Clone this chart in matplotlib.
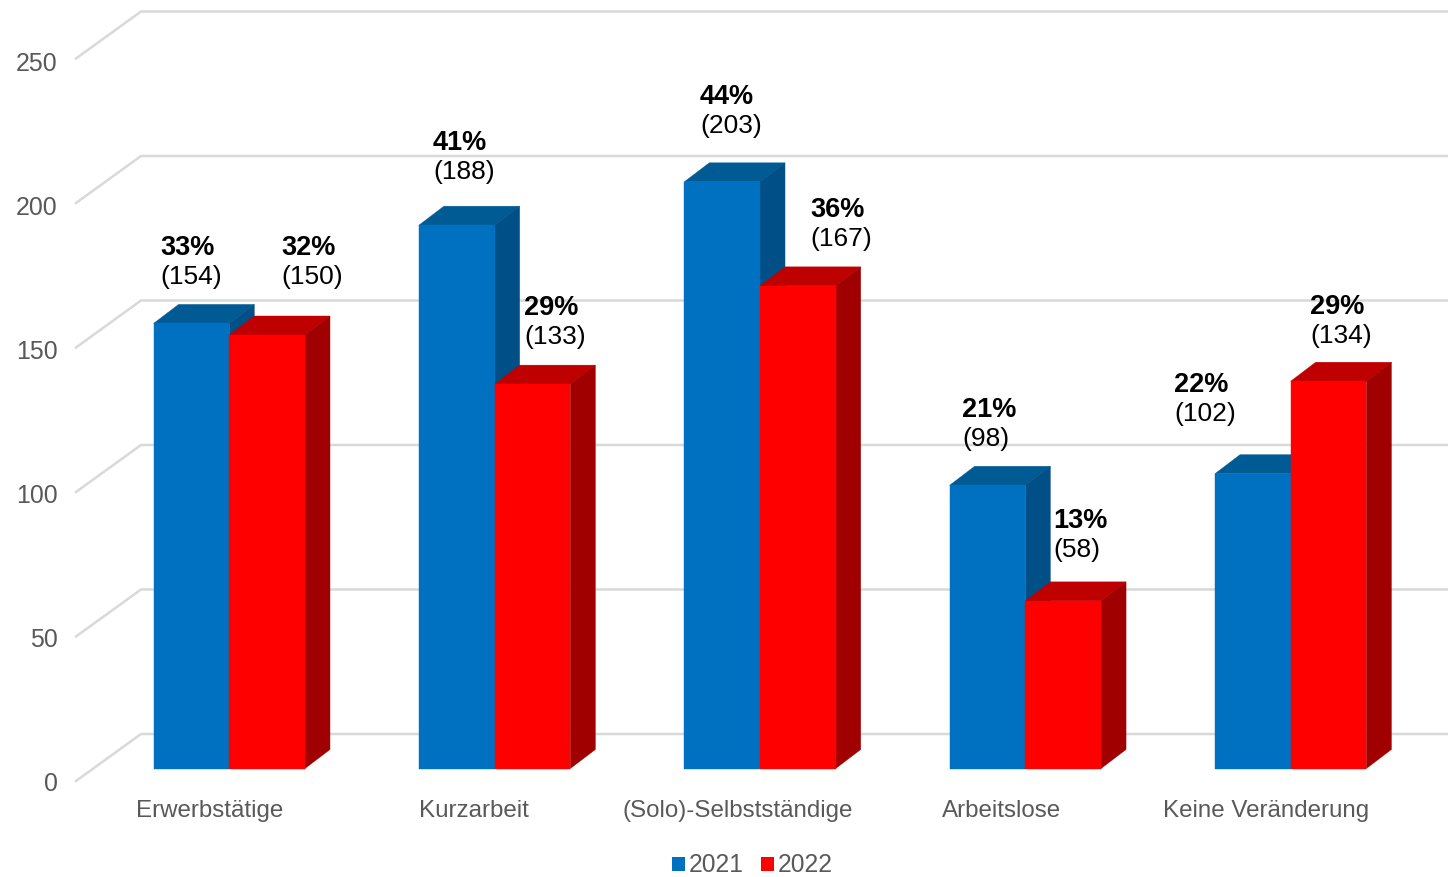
import matplotlib
matplotlib.use("Agg")
import matplotlib.pyplot as plt
from matplotlib.patches import Polygon, Patch

# === Daten ===
categories = ["Erwerbstätige", "Kurzarbeit", "(Solo)-Selbstständige", "Arbeitslose", "Keine Veränderung"]
values_2021 = [154, 188, 203, 98, 102]
values_2022 = [150, 133, 167, 58, 134]
percent_2021 = ["33%", "41%", "44%", "21%", "22%"]
percent_2022 = ["32%", "29%", "36%", "13%", "29%"]
y_ticks = [0, 50, 100, 150, 200, 250]

# === Layout (Pixel) ===
W, H = 1448, 877
X0, X_STEP = 229.3, 265.35  # Mitte der ersten Gruppe, Abstand
Y0, Y_UNIT = 768.5, 2.89    # Wert 0 an der Vorderkante, Pixel pro Einheit
BAR_W = 75.7 / X_STEP
DX, DY = 25 / X_STEP, 19 / Y_UNIT   # Tiefe der Balken
TICK_SCALE = 144 / 144.5    # Abstand der Achsenzahlen zu den Gitterlinien

# linke Kante der Beschriftung, Grundlinie der Prozentzeile
label_pos_2021 = [(160, 255), (433, 150), (700, 104), (962, 417), (1174, 392)]
label_pos_2022 = [(281, 255), (524, 315), (810, 217), (1053, 528), (1310, 314)]
cat_x = [210, 474, 738, 1002, 1266]

BLUE = ("#0070C0", "#005A94", "#004F86")
RED = ("#FF0000", "#BF0000", "#A00000")
GRID = "#D9D9D9"
TEXT = "#595959"

plt.rcParams["font.family"] = ["Liberation Sans", "DejaVu Sans"]

fig = plt.figure(figsize=(W / 100, H / 100), dpi=100)
ax = fig.add_axes([0, 0, 1, 1])
ax.set_xlim(-X0 / X_STEP, (W - X0) / X_STEP)
ax.set_ylim(-(H - Y0) / Y_UNIT, Y0 / Y_UNIT)
ax.axis("off")


def px(x, y):
    # Pixelposition -> Datenkoordinaten
    return (x - X0) / X_STEP, (Y0 - y) / Y_UNIT


def draw_bar(left, value, colors):
    right = left + BAR_W
    ax.add_patch(Polygon([(left, value), (left + DX, value + DY), (right + DX, value + DY), (right, value)],
                         closed=True, fc=colors[1], ec=colors[1], lw=0.3, zorder=3))
    ax.add_patch(Polygon([(right, 0), (right + DX, DY), (right + DX, value + DY), (right, value)],
                         closed=True, fc=colors[2], ec=colors[2], lw=0.3, zorder=3))
    ax.add_patch(Polygon([(left, 0), (right, 0), (right, value), (left, value)],
                         closed=True, fc=colors[0], ec=colors[0], lw=0.3, zorder=3))


# === Gitterlinien und Achse ===
back_x, back_y = px(141, 734)
front_x, front_y = px(76, 781)
tick_x, tick_y = px(57.5, 791)
for v in y_ticks:
    ax.plot([front_x, back_x, (W - X0) / X_STEP], [front_y + v, back_y + v, back_y + v],
            color=GRID, lw=1.8, solid_joinstyle="miter", zorder=1)
    ax.text(tick_x, tick_y + v * TICK_SCALE, str(v), ha="right", va="baseline", fontsize=17.9, color=TEXT)

# === Balken ===
for i in range(len(categories)):
    draw_bar(i - BAR_W, values_2021[i], BLUE)
    draw_bar(i, values_2022[i], RED)

# === Beschriftungen ===
for percents, values, positions in [(percent_2021, values_2021, label_pos_2021),
                                    (percent_2022, values_2022, label_pos_2022)]:
    for p, v, (lx, ly) in zip(percents, values, positions):
        x, y = px(lx, ly)
        ax.text(x, y, p, ha="left", va="baseline", fontsize=19.5, fontweight="bold", color="black", zorder=5)
        x, y = px(lx, ly + 29)
        ax.text(x, y, f"({v})", ha="left", va="baseline", fontsize=19, color="black", zorder=5)

for name, cx in zip(categories, cat_x):
    x, y = px(cx, 817)
    ax.text(x, y, name, ha="center", va="baseline", fontsize=17.4, color=TEXT)

# === Legende ===
handles = [Patch(fc=BLUE[0], label="2021"), Patch(fc=RED[0], label="2022")]
ax.legend(handles=handles, ncol=2, frameon=False, loc="center",
          bbox_to_anchor=(752.5 / W, 1 - 865.5 / H), fontsize=17.7, labelcolor=TEXT,
          handlelength=0.53, handleheight=0.53, handletextpad=0.16, columnspacing=0.68,
          borderpad=0, borderaxespad=0)

fig.savefig("out.png", dpi=100)
